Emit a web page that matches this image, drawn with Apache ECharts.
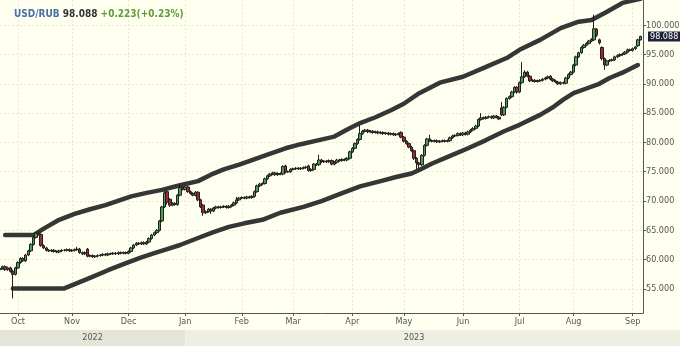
<!DOCTYPE html>
<html><head><meta charset="utf-8">
<script src="https://cdn.jsdelivr.net/npm/echarts@6/dist/echarts.min.js"></script>
<style>html,body{margin:0;padding:0;background:#fffff0}#c{width:680px;height:346px}</style>
</head><body><div id="c"></div>
<script>
// ---- data ----
const startDate = [2022, 8, 22];   // first trading day shown (UTC y, m0, d)
const endDate = [2023, 8, 7];      // last trading day shown
const symbolName = 'USD/RUB';
const lastPrice = 98.088;
const changeText = '+0.223(+0.23%)';
const monthNames = ['Jan','Feb','Mar','Apr','May','Jun','Jul','Aug','Sep','Oct','Nov','Dec'];
const yTicks = [55,60,65,70,75,80,85,90,95,100];
const yMin = 50.9, yMax = 104.3;

const opens = [58.3,58.5,58.8,58.3,58.6,58.0,57.5,58.6,59.5,60.2,
 59.8,60.8,61.5,62.6,63.8,64.5,64.3,62.4,62.0,61.6,
 61.5,61.6,61.4,61.3,61.5,61.6,61.6,61.7,61.5,61.6,
 61.7,61.8,61.2,61.0,61.8,60.6,60.7,60.5,60.6,60.7,
 60.8,60.9,60.8,61.0,61.0,61.1,61.0,61.2,61.1,61.2,
 61.1,61.4,62.0,62.5,62.8,62.7,62.9,62.7,63.0,63.6,
 64.2,64.6,65.0,66.6,69.0,71.6,70.3,69.3,69.6,69.4,
 71.0,72.3,72.0,72.4,71.6,71.3,71.0,71.5,70.2,69.3,
 68.0,68.2,68.6,68.3,68.8,69.0,68.9,69.0,69.1,68.9,
 69.1,69.3,69.7,70.2,70.5,70.6,70.5,70.7,70.6,70.8,
 71.6,72.6,72.9,73.0,73.8,74.3,74.6,74.8,74.5,74.7,
 74.6,76.0,75.0,75.0,75.4,75.5,75.6,75.5,75.6,75.7,
 76.0,75.2,75.4,76.3,76.2,77.0,76.7,76.8,76.7,76.9,
 76.3,76.6,77.0,76.9,77.1,77.0,77.3,78.4,79.0,79.8,
 80.5,81.5,81.9,82.1,81.8,81.9,81.7,81.8,81.6,81.7,
 81.5,81.6,81.4,81.5,81.3,81.4,81.7,80.9,80.2,79.8,
 79.2,78.6,77.3,76.5,76.2,77.8,79.5,80.6,80.3,80.2,
 80.3,80.1,80.2,80.3,80.2,80.3,80.8,81.1,81.2,81.5,
 81.3,81.6,81.4,81.8,82.1,82.4,82.8,83.9,84.2,84.1,
 84.3,84.4,84.2,84.5,84.3,85.9,84.7,86.0,87.5,87.8,
 88.6,89.4,88.6,90.2,91.2,92.0,91.3,90.5,90.6,90.4,
 90.5,90.6,90.8,91.0,91.3,90.8,90.5,90.3,90.0,90.2,
 90.1,91.0,91.6,92.0,93.2,94.6,95.3,96.2,96.6,96.9,
 97.3,97.5,99.3,97.5,96.2,94.3,93.2,93.9,94.0,94.1,
 94.6,94.8,95.0,95.1,95.4,95.8,95.7,96.0,96.5,97.5];
const closes = [58.5,58.8,58.3,58.6,58.0,57.5,58.6,59.5,60.2,59.8,
 60.8,61.5,62.6,63.8,64.5,64.3,62.4,62.0,61.6,61.5,
 61.6,61.4,61.3,61.5,61.6,61.6,61.7,61.5,61.6,61.7,
 61.8,61.2,61.0,61.2,60.6,60.7,60.5,60.6,60.7,60.8,
 60.9,60.8,61.0,61.0,61.1,61.0,61.2,61.1,61.2,61.1,
 61.4,62.0,62.5,62.8,62.7,62.9,62.7,63.0,63.6,64.2,
 64.6,65.0,66.6,69.0,71.4,69.8,69.3,69.6,69.4,71.0,
 72.3,72.0,72.4,71.6,71.3,71.0,71.5,70.2,69.0,68.0,
 68.2,68.6,68.3,68.8,69.0,68.9,69.0,69.1,68.9,69.1,
 69.3,69.7,70.2,70.5,70.6,70.5,70.7,70.6,70.8,71.6,
 72.6,72.9,73.0,73.8,74.3,74.6,74.8,74.5,74.7,74.6,
 75.9,75.0,75.0,75.4,75.5,75.6,75.5,75.6,75.7,75.8,
 75.2,75.4,76.3,76.2,77.0,76.7,76.8,76.7,76.9,76.3,
 76.6,77.0,76.9,77.1,77.0,77.3,78.4,79.0,79.8,80.5,
 81.5,81.9,82.1,81.8,81.9,81.7,81.8,81.6,81.7,81.5,
 81.6,81.4,81.5,81.3,81.4,81.5,80.9,80.2,79.8,79.2,
 78.6,77.3,76.5,76.2,77.8,79.5,80.6,80.3,80.2,80.3,
 80.1,80.2,80.3,80.2,80.3,80.8,81.1,81.2,81.5,81.3,
 81.6,81.4,81.8,82.1,82.4,82.8,83.9,84.2,84.1,84.3,
 84.4,84.2,84.5,84.3,84.0,84.7,86.0,87.5,87.8,88.6,
 89.4,88.6,90.2,91.2,92.0,91.3,90.5,90.6,90.4,90.5,
 90.6,90.8,91.0,91.2,90.8,90.5,90.3,90.0,90.2,90.1,
 91.0,91.6,92.0,93.2,94.6,95.3,96.2,96.6,96.9,97.3,
 97.6,99.4,98.3,97.0,94.3,93.2,93.9,94.0,94.1,94.6,
 94.8,95.0,95.1,95.4,95.8,95.7,96.0,96.3,97.5,98.088];
const lows = [58.1,58.3,58.1,58.1,57.8,53.4,57.3,58.4,59.3,59.6,
 59.6,60.6,61.3,62.4,63.6,64.1,62.2,61.8,61.4,61.3,
 61.3,61.2,61.1,61.1,61.3,61.4,61.4,61.3,61.3,61.4,
 61.5,61.0,60.8,60.8,60.4,60.4,60.3,60.3,60.4,60.5,
 60.6,60.6,60.6,60.8,60.8,60.8,60.8,60.9,60.9,60.9,
 60.9,61.2,61.8,62.3,62.5,62.5,62.5,62.5,62.8,63.4,
 64.0,64.4,64.8,66.4,68.8,69.4,69.0,69.1,69.2,69.2,
 70.8,71.8,71.8,71.4,71.1,70.8,70.8,70.0,68.8,67.5,
 67.8,68.0,67.8,68.1,68.6,68.7,68.7,68.8,68.7,68.7,
 68.9,69.1,69.5,70.0,70.3,70.3,70.3,70.4,70.4,70.6,
 71.4,72.4,72.7,72.8,73.6,74.1,74.4,74.3,74.3,74.4,
 74.4,74.7,74.8,74.8,75.2,75.3,75.3,75.3,75.4,75.5,
 75.0,75.0,75.2,76.0,76.0,76.5,76.5,76.5,76.5,76.1,
 76.1,76.4,76.7,76.7,76.8,76.8,77.1,78.2,78.8,79.6,
 80.3,81.3,81.7,81.6,81.6,81.5,81.5,81.4,81.4,81.3,
 81.3,81.2,81.2,81.1,81.1,81.2,80.7,80.0,79.6,79.0,
 78.4,77.0,75.3,75.3,76.0,77.6,79.3,80.1,80.0,80.0,
 79.9,79.9,80.0,80.0,80.0,80.1,80.6,80.9,81.0,81.1,
 81.1,81.2,81.2,81.6,81.9,82.2,82.6,83.7,83.9,83.9,
 84.1,84.0,84.0,84.1,83.8,84.5,84.5,85.8,87.3,87.6,
 88.4,88.3,88.4,90.0,91.0,91.1,90.3,90.3,90.2,90.2,
 90.3,90.4,90.6,90.8,90.6,90.3,90.1,89.8,89.8,89.9,
 89.9,90.8,91.4,91.8,93.0,94.4,95.1,96.0,96.4,96.7,
 97.1,97.3,98.0,96.7,94.0,92.4,93.0,93.7,93.8,93.9,
 94.4,94.6,94.8,94.9,95.2,95.5,95.5,95.8,96.3,97.4];
const highs = [58.7,59.0,59.0,58.8,58.8,58.3,58.8,59.7,60.4,60.4,
 61.0,61.7,62.8,64.0,64.7,64.9,64.5,62.6,62.2,61.8,
 61.8,61.8,61.6,61.7,61.8,61.8,61.9,61.9,61.8,61.9,
 62.2,62.0,61.4,61.4,62.0,60.9,60.9,60.8,60.9,61.0,
 61.1,61.1,61.2,61.2,61.3,61.3,61.4,61.4,61.4,61.4,
 61.6,62.2,62.7,63.0,63.0,63.1,63.1,63.2,63.8,64.4,
 64.8,65.2,66.8,69.2,71.7,71.8,70.5,69.8,69.8,71.2,
 72.9,72.5,72.6,72.6,71.8,71.5,71.7,71.7,70.4,69.5,
 68.4,68.8,68.8,69.0,69.2,69.2,69.2,69.3,69.3,69.3,
 69.5,69.9,70.7,70.7,70.8,70.8,70.9,70.9,71.0,71.8,
 72.8,73.1,73.2,74.0,74.5,74.8,75.0,75.0,74.9,74.9,
 76.1,76.2,75.2,75.6,75.7,75.8,75.8,75.8,75.9,76.0,
 76.2,75.6,76.5,76.5,77.9,77.2,77.0,77.0,77.1,77.1,
 76.8,77.2,77.2,77.3,77.3,77.5,78.6,79.2,80.0,80.7,
 83.0,82.1,82.3,82.3,82.1,82.1,82.0,82.0,81.9,81.9,
 81.8,81.8,81.7,81.7,81.6,81.7,81.9,81.1,80.4,80.0,
 79.4,78.8,77.5,76.7,78.0,79.7,80.8,81.3,80.5,80.5,
 80.5,80.4,80.5,80.5,80.5,81.0,81.3,81.4,81.7,81.7,
 81.8,81.8,82.0,82.3,82.6,83.0,84.1,85.0,84.4,84.5,
 84.6,84.6,84.7,84.7,84.5,86.9,86.2,87.7,88.0,88.8,
 89.6,89.6,90.4,93.7,92.3,92.2,91.5,90.8,90.8,90.7,
 90.8,91.0,91.2,91.4,91.5,91.0,90.7,90.5,90.4,90.4,
 91.2,91.8,92.2,93.4,94.8,95.5,96.4,96.8,97.1,97.5,
 97.8,101.8,99.5,97.7,96.4,94.5,94.1,94.2,94.3,94.8,
 95.0,95.2,95.3,95.6,96.0,96.0,96.2,96.5,97.7,98.2];

// channel readings: [trading-day index, value]
const upperBand = [[2,64.2],[13,64.2],[17,65.3],[23,66.8],[29,67.8],[35,68.6],[41,69.3],[47,70.2],[51,70.8],[57,71.4],[63,71.9],[70,72.7],[77,73.4],[82,74.5],[87,75.4],[93,76.2],[98,77.0],[104,77.9],[111,79.0],[117,79.7],[124,80.4],[130,81.0],[135,82.2],[140,83.3],[146,84.3],[152,85.5],[157,86.6],[163,88.4],[171,90.2],[180,91.2],[189,92.9],[197,94.4],[202,95.8],[210,97.5],[218,99.5],[225,100.6],[230,100.9],[236,102.3],[242,103.8],[249,104.5]];
const lowerBand = [[5,55.1],[25,55.1],[30,56.0],[35,56.9],[42,58.2],[49,59.4],[55,60.4],[60,61.1],[65,61.8],[70,62.5],[77,63.7],[83,64.7],[89,65.6],[95,66.2],[102,66.8],[109,68.0],[118,69.0],[125,70.0],[131,71.0],[140,72.5],[148,73.4],[154,74.1],[160,74.7],[163,75.3],[168,76.4],[175,77.7],[182,79.0],[189,80.4],[196,81.9],[202,83.0],[210,84.7],[215,86.0],[219,87.3],[223,88.4],[228,89.2],[233,90.0],[237,91.0],[242,91.9],[248,93.2]];

// ---- build ----
const FONT = "'DejaVu Sans Condensed','DejaVu Sans',sans-serif";
const dates = [];
{
  let t = Date.UTC(startDate[0], startDate[1], startDate[2]);
  const end = Date.UTC(endDate[0], endDate[1], endDate[2]);
  while (t <= end) {
    const d = new Date(t);
    const wd = d.getUTCDay();
    if (wd !== 0 && wd !== 6) dates.push(d.toISOString().slice(0, 10));
    t += 86400000;
  }
}
const isMonthStart = (i) => i > 0 && dates[i].slice(5, 7) !== dates[i - 1].slice(5, 7);
const candles = dates.map((_, i) => i < closes.length ? [opens[i], closes[i], lows[i], highs[i]] : '-');
function fullBand(pairs) {
  const arr = dates.map(() => null);
  pairs.forEach(p => { arr[p[0]] = p[1]; });
  return arr;
}
const gridColor = '#ebe9d3';
const axisColor = '#555';

const chart = echarts.init(document.getElementById('c'), null, {renderer: 'canvas'});
chart.setOption({
  animation: false,
  backgroundColor: '#fffff0',
  title: {
    left: 9, top: 4,
    text: '{a|' + symbolName + '} {b|' + lastPrice.toFixed(3) + '} {c|' + changeText + '}',
    textStyle: {
      fontSize: 10, fontFamily: FONT, fontWeight: 'bold',
      rich: {
        a: {color: '#4a70a8', fontWeight: 'bold', fontSize: 10, fontFamily: FONT},
        b: {color: '#333333', fontWeight: 'bold', fontSize: 10, fontFamily: FONT},
        c: {color: '#5e9c3a', fontWeight: 'bold', fontSize: 10, fontFamily: FONT}
      }
    }
  },
  grid: {left: 0, right: 37, top: 0, bottom: 33, containLabel: false, outerBoundsMode: 'none'},
  xAxis: {
    type: 'category', data: dates, boundaryGap: false,
    axisLine: {show: true, lineStyle: {color: axisColor, width: 1}},
    axisTick: {show: true, interval: (i) => isMonthStart(i), length: 3, lineStyle: {color: axisColor}},
    axisLabel: {
      interval: (i) => isMonthStart(i),
      formatter: (v) => monthNames[+v.slice(5, 7) - 1],
      color: axisColor, fontSize: 9, fontFamily: FONT, margin: 4
    },
    splitLine: {show: true, interval: (i) => isMonthStart(i), lineStyle: {color: gridColor, type: [2, 2], width: 1}}
  },
  yAxis: {
    type: 'value', position: 'right', min: yMin, max: yMax, scale: true,
    axisLine: {show: true, lineStyle: {color: axisColor, width: 1}},
    axisTick: {show: true, customValues: yTicks, length: 3, lineStyle: {color: axisColor}},
    axisLabel: {customValues: yTicks, formatter: (v) => Number(v).toFixed(3), color: axisColor, fontSize: 9, fontFamily: FONT, margin: 3},
    splitLine: {show: false}
  },
  series: [
    {
      type: 'line', data: [], silent: true, z: 0,
      markLine: {
        silent: true, symbol: 'none', animation: false, z: 0,
        label: {show: false},
        lineStyle: {color: gridColor, type: [2, 2], width: 1},
        data: yTicks.map(v => ({yAxis: v}))
      }
    },
    {
      type: 'line', data: fullBand(upperBand), connectNulls: true, showSymbol: false, silent: true, z: 2,
      lineStyle: {color: '#363636', width: 4.5, cap: 'round', join: 'round'}
    },
    {
      type: 'line', data: fullBand(lowerBand), connectNulls: true, showSymbol: false, silent: true, z: 2,
      lineStyle: {color: '#363636', width: 4.5, cap: 'round', join: 'round'}
    },
    {
      type: 'candlestick', data: candles, barWidth: 3, z: 3, clip: false,
      itemStyle: {
        color: '#49a247', color0: '#a3263c',
        borderColor: '#1f1f1f', borderColor0: '#1f1f1f', borderColorDoji: '#1f1f1f', borderWidth: 1
      },
      markLine: {
        silent: true, symbol: 'none', animation: false, z: 10, precision: 3,
        lineStyle: {color: 'rgba(0,0,0,0)', width: 0, type: 'solid'},
        label: {
          show: true, position: 'end', distance: 5,
          formatter: () => lastPrice.toFixed(3),
          backgroundColor: '#20243a', color: '#ffffff', padding: [1, 2, 0, 2],
          fontSize: 9, fontFamily: FONT, opacity: 1
        },
        data: [{yAxis: lastPrice}]
      }
    }
  ]
});

// year strip below the month labels, placed from the category scale
const firstOf2023 = dates.findIndex(d => d.startsWith('2023'));
const xYear = chart.convertToPixel({xAxisIndex: 0}, dates[firstOf2023]);
const xLeft = chart.convertToPixel({xAxisIndex: 0}, dates[0]);
const xRight = chart.convertToPixel({xAxisIndex: 0}, dates[dates.length - 1]);
const years = ['2022', '2023'];
const stripTop = 330, stripH = 16;
chart.setOption({
  graphic: [
    {type: 'rect', z: -1, shape: {x: 0, y: stripTop, width: xYear, height: stripH}, style: {fill: '#e4e5d7'}},
    {type: 'rect', z: -1, shape: {x: xYear, y: stripTop, width: 680 - xYear, height: stripH}, style: {fill: '#eeeee2'}},
    {type: 'text', x: (xLeft + xYear) / 2, y: stripTop + 8, style: {text: years[0], fill: axisColor, font: '9px ' + FONT, align: 'center', verticalAlign: 'middle', textAlign: 'center', textVerticalAlign: 'middle'}},
    {type: 'text', x: (xYear + xRight) / 2, y: stripTop + 8, style: {text: years[1], fill: axisColor, font: '9px ' + FONT, align: 'center', verticalAlign: 'middle', textAlign: 'center', textVerticalAlign: 'middle'}}
  ]
});
</script>
</body></html>
